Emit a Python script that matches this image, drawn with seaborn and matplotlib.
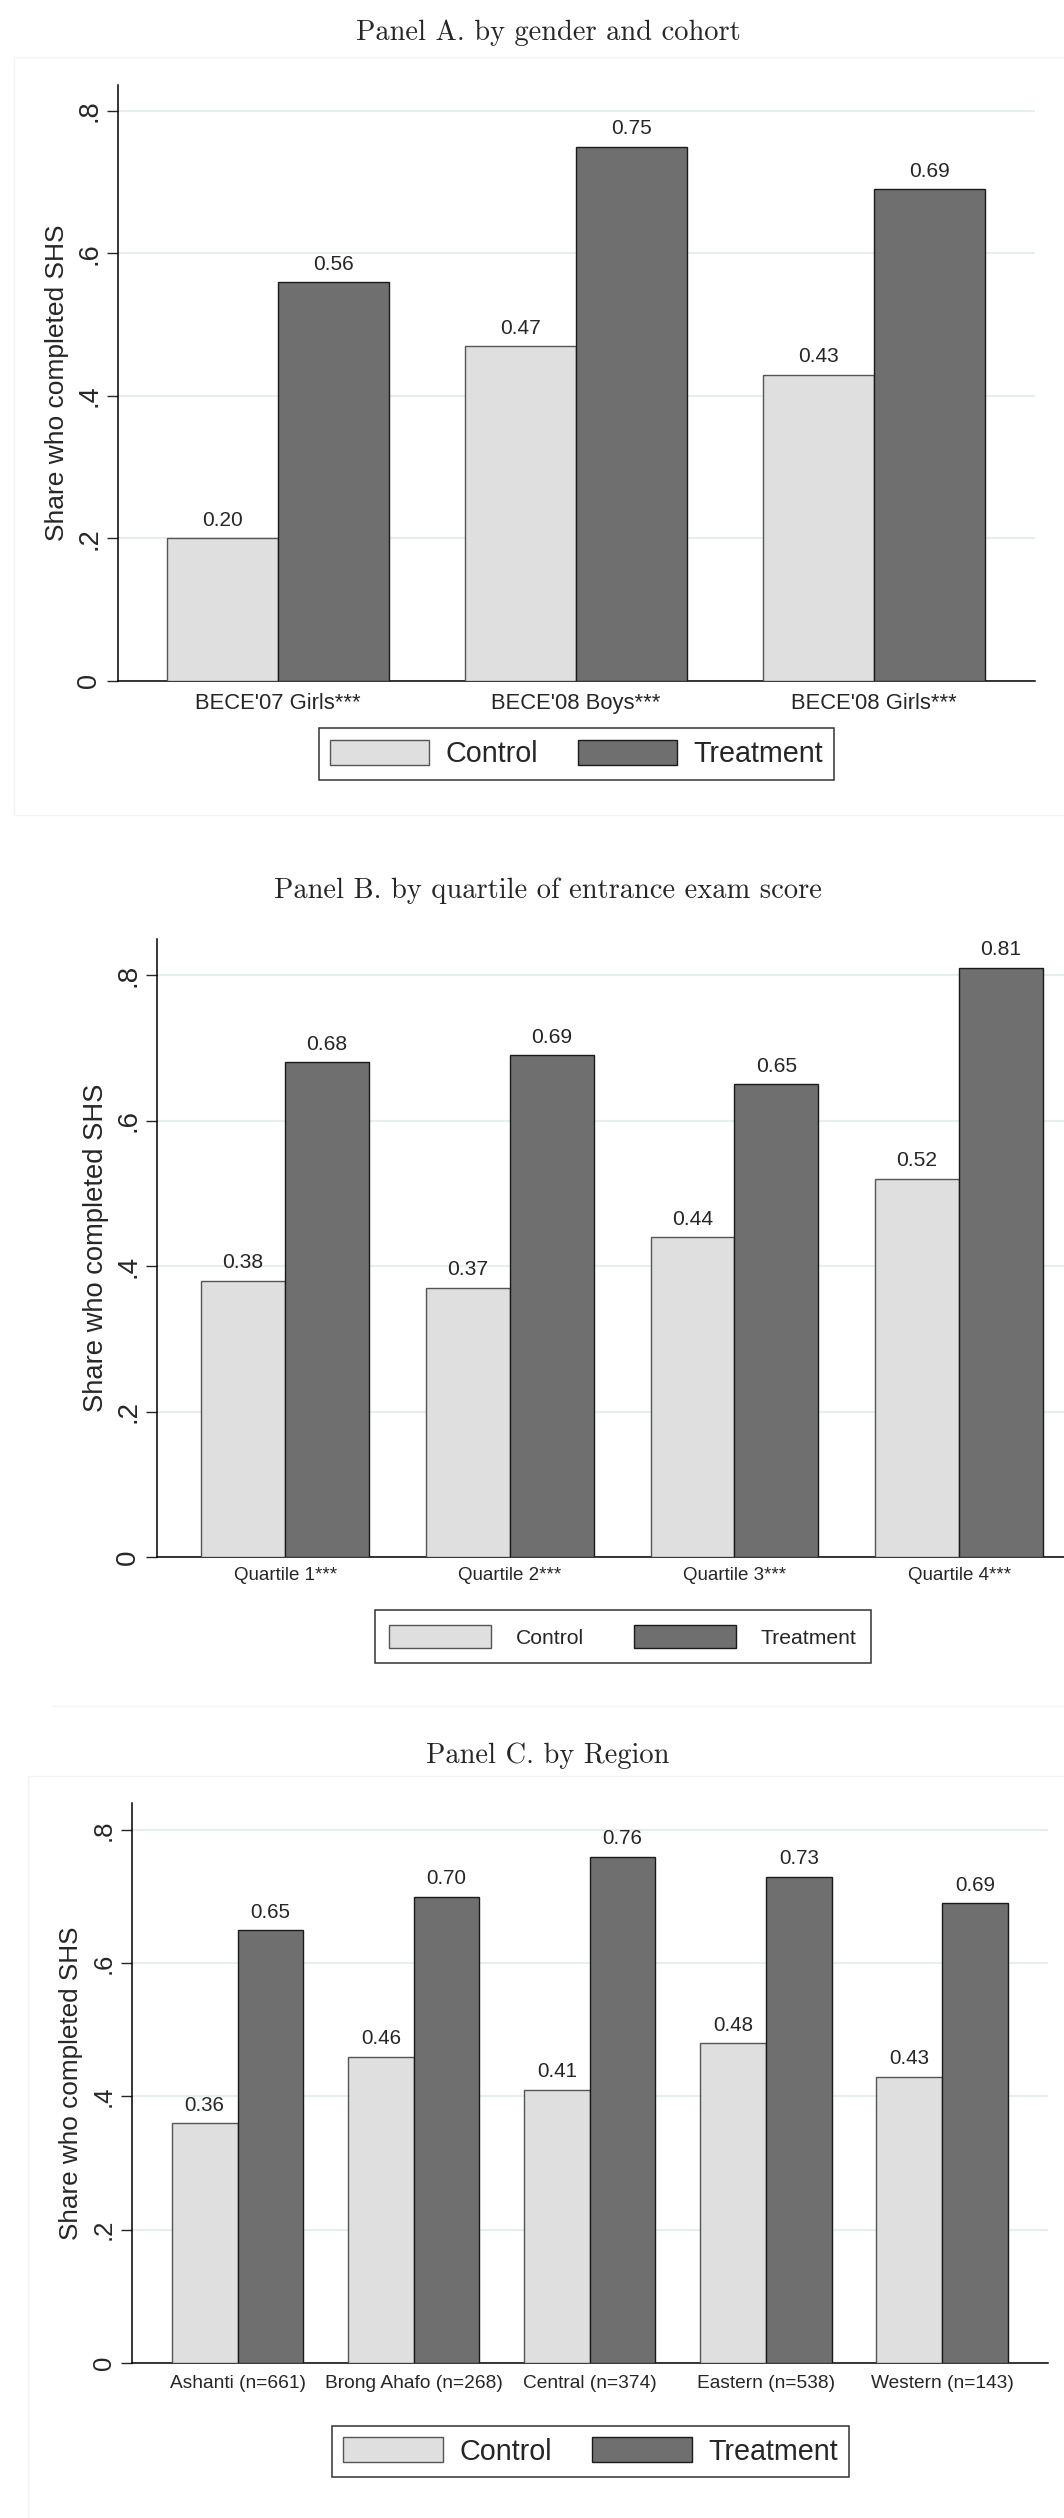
import numpy as np
import pandas as pd
import matplotlib
matplotlib.use("Agg")
import matplotlib.pyplot as plt
import seaborn as sns
from matplotlib.patches import Patch, Rectangle
from matplotlib.lines import Line2D

# ---------------- data ----------------
groups = ["Control", "Treatment"]

cats_a = ["BECE'07 Girls***", "BECE'08 Boys***", "BECE'08 Girls***"]
control_a = [0.20, 0.47, 0.43]
treat_a = [0.56, 0.75, 0.69]

cats_b = ["Quartile 1***", "Quartile 2***", "Quartile 3***", "Quartile 4***"]
control_b = [0.38, 0.37, 0.44, 0.52]
treat_b = [0.68, 0.69, 0.65, 0.81]

cats_c = ["Ashanti (n=661)", "Brong Ahafo (n=268)", "Central (n=374)",
          "Eastern (n=538)", "Western (n=143)"]
control_c = [0.36, 0.46, 0.41, 0.48, 0.43]
treat_c = [0.65, 0.70, 0.76, 0.73, 0.69]

yticks = [0, 0.2, 0.4, 0.6, 0.8]
ytick_labels = ["0", ".2", ".4", ".6", ".8"]
ylabel = "Share who completed SHS"
titles = ["Panel A. by gender and cohort",
          "Panel B. by quartile of entrance exam score",
          "Panel C. by Region"]

# ---------------- style ----------------
sns.set_style("white")
plt.rcParams["font.family"] = ["Liberation Sans", "DejaVu Sans"]

CTRL_FILL, TRT_FILL = "#DFDFDF", "#6F6F6F"
CTRL_EDGE, TRT_EDGE = "#555555", "#1A1A1A"
GRID = "#E6EEF0"
FAINT = "#F1F3F4"

W, H = 1064, 2518
fig = plt.figure(figsize=(W / 100, H / 100), dpi=100)


def fx(x):
    return x / W


def fy(y):
    return 1 - y / H


def make_df(cats, ctrl, trt):
    return pd.DataFrame({
        "cat": list(cats) * 2,
        "group": ["Control"] * len(cats) + ["Treatment"] * len(cats),
        "value": list(ctrl) + list(trt),
    })


def panel(cats, ctrl, trt, box, xlim, ytop, title, title_y, fs, leg):
    left, right, top, bottom = box
    ax = fig.add_axes([fx(left), fy(bottom), (right - left) / W, (bottom - top) / H])
    df = make_df(cats, ctrl, trt)
    sns.barplot(data=df, x="cat", y="value", hue="group", order=cats,
                hue_order=groups, palette=[CTRL_FILL, TRT_FILL],
                width=0.746, edgecolor="black", linewidth=1.0,
                errorbar=None, legend=False, ax=ax, zorder=3)
    for cont, ec in zip(ax.containers, [CTRL_EDGE, TRT_EDGE]):
        for p in cont.patches:
            p.set_edgecolor(ec)
        ax.bar_label(cont, fmt="%.2f", padding=6, fontsize=fs["data"])
    ax.set_xlim(*xlim)
    ax.set_ylim(0, ytop)
    ax.set_yticks(yticks)
    ax.set_yticklabels(ytick_labels)
    ax.set_xlabel("")
    ax.set_ylabel(ylabel, fontsize=fs["ylab"])
    ax.yaxis.set_label_coords(fs["ylab_x"], 0.5)
    ax.yaxis.label.set_va("center")
    ax.yaxis.grid(True, color=GRID, lw=1.6, zorder=0)
    ax.xaxis.grid(False)
    ax.set_axisbelow(True)
    for s in ["top", "right"]:
        ax.spines[s].set_visible(False)
    for s in ["left", "bottom"]:
        ax.spines[s].set_color("black")
        ax.spines[s].set_linewidth(1.1)
    ax.tick_params(axis="x", length=0, pad=fs["xpad"], labelsize=fs["xtick"])
    ax.tick_params(axis="y", length=7.9, width=1.0, pad=3.5,
                   labelsize=fs["ytick"], labelrotation=90, left=True)
    for t in ax.get_yticklabels():
        t.set_va("center")
    handles = [Patch(facecolor=CTRL_FILL, edgecolor=CTRL_EDGE, lw=1.0, label="Control"),
               Patch(facecolor=TRT_FILL, edgecolor=TRT_EDGE, lw=1.0, label="Treatment")]
    lg = fig.legend(handles=handles, loc="center",
                    bbox_to_anchor=(fx(leg["cx"]), fy(leg["cy"])),
                    ncol=2, fontsize=leg["fs"], frameon=True, fancybox=False,
                    edgecolor="black", handlelength=leg["hl"], handleheight=leg["hh"],
                    handletextpad=leg["tp"], columnspacing=leg["cs"],
                    borderpad=leg["bp"])
    lg.get_frame().set_linewidth(1.1)
    fig.text(fx(548), fy(title_y), title, ha="center", va="baseline",
             fontsize=20.5, family="cmr10")
    return ax


# faint background frames (graph regions)
fig.add_artist(Rectangle((fx(14), fy(815)), fx(1080 - 14), (815 - 57) / H,
                         transform=fig.transFigure, fill=False, ec=FAINT, lw=1.0))
fig.add_artist(Line2D([fx(52), 1.0], [fy(1706), fy(1706)],
                      transform=fig.transFigure, color=FAINT, lw=1.0))
fig.add_artist(Rectangle((fx(28), fy(2530)), fx(1080 - 28), (2530 - 1776) / H,
                         transform=fig.transFigure, fill=False, ec=FAINT, lw=1.0))

panel(cats_a, control_a, treat_a, (118, 1035, 85, 680.7), (-0.538, 2.541), 0.8366,
      titles[0], 40,
      dict(data=15, ylab=19, ylab_x=-0.0665, xtick=15.8, ytick=19.5, xpad=8.5),
      dict(cx=576.5, cy=754, fs=20.7, hl=3.44, hh=0.94, tp=0.56, cs=1.39, bp=0.4))

panel(cats_b, control_b, treat_b, (157, 1064, 939, 1557), (-0.570, 3.467), 0.8495,
      titles[1], 898,
      dict(data=15.2, ylab=19.7, ylab_x=-0.0673, xtick=13.5, ytick=20, xpad=7.5),
      dict(cx=623, cy=1636.5, fs=15.2, hl=4.8, hh=1.33, tp=1.18, cs=2.4, bp=0.7))

panel(cats_c, control_c, treat_c, (131.5, 1048, 1803, 2363), (-0.602, 4.602), 0.8405,
      titles[2], 1763,
      dict(data=14.8, ylab=18.8, ylab_x=-0.066, xtick=13.8, ytick=18.5, xpad=8.6),
      dict(cx=590.5, cy=2451.5, fs=20.7, hl=3.47, hh=0.97, tp=0.56, cs=1.42, bp=0.38))

fig.savefig("out.png", dpi=100, facecolor="white")
